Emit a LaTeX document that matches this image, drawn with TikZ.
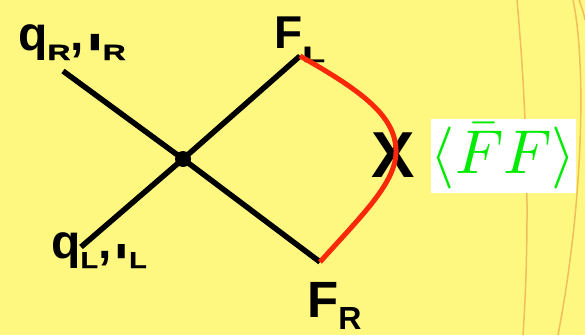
\documentclass[tikz,border=0pt]{standalone}
\usepackage{fontspec}
\setmainfont{Liberation Sans}
\newfontfamily\subwideR{Liberation Sans}[FakeStretch=1.45, FakeBold=1.5]
\newfontfamily\subwideL{Liberation Sans}[FakeStretch=1.25, FakeBold=1.5]
\newfontfamily\subwideFL{Liberation Sans}[FakeStretch=1.7, FakeBold=1.5]
\newfontfamily\stemwide{Liberation Sans}[FakeStretch=2.6, FakeBold=1]
\usepackage{graphicx}
\usetikzlibrary{positioning}

\definecolor{slideyellow}{RGB}{255,248,128}
\definecolor{curvered}{RGB}{250,40,10}
\definecolor{condgreen}{RGB}{0,235,0}
\definecolor{paperorange}{RGB}{240,190,90}

% label helpers
\newcommand{\labfont}[1]{\fontsize{#1}{#1}\selectfont\bfseries}
\newcommand{\lowsub}[4]{\raisebox{-#1pt}{#2\labfont{#3}#4}}
\newcommand{\shortl}[1]{{\stemwide\labfont{#1}l}}

\begin{document}
\begin{tikzpicture}[
x=1pt, y=-1pt,
every node/.style={inner sep=0pt},
leg/.style={line width=5.5pt, black},
lab/.style={anchor=base west, font={\labfont{48}}},
vertex/.style={circle, fill=black, minimum size=16pt},
condbox/.style={
rectangle,
fill=white,
text=condgreen,
minimum width=145pt,
minimum height=74pt
},
fold/.style={curvered, line width=5pt},
paperline/.style={paperorange, line width=1.5pt}
]

% Background
\fill[slideyellow] (0,0) rectangle (585,335);
\useasboundingbox (0,0) rectangle (585,335);
\draw[paperline] (517,0) .. controls (524,80) and (532,200) .. (523,335);
\draw[paperline] (573,0) .. controls (586,60) and (584,200) .. (558,335);
\draw[paperline] (579,0) .. controls (582,8) and (584,14) .. (585,20);

% Nodes
\node[vertex] (vtx) at (183,159) {};

\coordinate (qRend) at (63,71);
\coordinate (qLend) at (81,247);
\coordinate (FLend) at (300,56);
\coordinate (FRend) at (320,262);

\node[lab] (qR) at (18,50)
{q\lowsub{10}{\subwideR}{22}{R},\kern3pt\shortl{22}\lowsub{10}{\subwideR}{22}{R}};

\node[lab] (qL) at (51,258)
{q\lowsub{10}{\subwideL}{23}{L},\kern3pt\shortl{19}\kern1pt\lowsub{10}{\subwideL}{23}{L}};

\node[lab, font={\labfont{46}}] (FL) at (274,48)
{F\lowsub{14}{\subwideFL}{22}{L}};

\node[lab, font={\labfont{51}}] (FR) at (307,317)
{F\lowsub{12}{}{32}{R}};

\node[anchor=base, font={\labfont{65}}] (cross) at (393,177) {X};

\node[condbox] (vev) at (503.5,156)
{\scalebox{6.2}{$\langle\bar F F\rangle$}};

% Connections
\draw[leg] (qRend) -- (vtx.center) -- (FRend);
\draw[leg] (qLend) -- (vtx.center) -- (FLend);

% condensate line
\draw[fold] (FLend) .. controls (360,90) and (395,115) .. (396,150)
.. controls (397,182) and (362,215) .. (FRend);

\end{tikzpicture}
\end{document}
